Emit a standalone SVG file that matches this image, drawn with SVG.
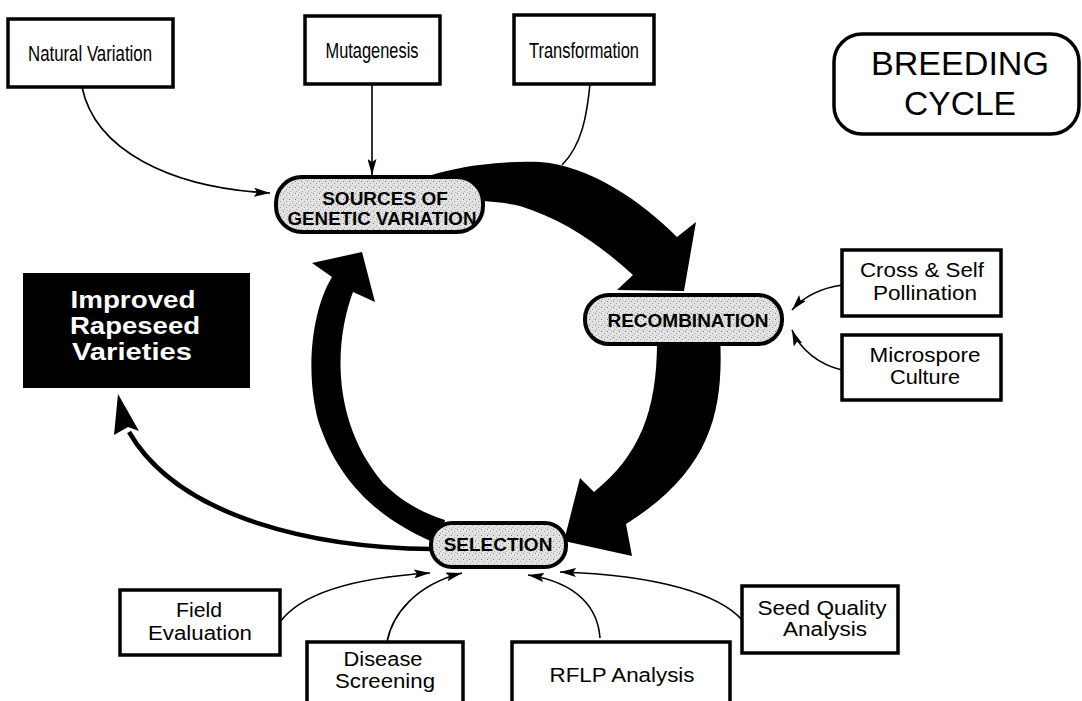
<svg xmlns="http://www.w3.org/2000/svg" width="1082" height="701" viewBox="0 0 1082 701">
<style>
.box{fill:#fff;stroke:#000;stroke-width:3.5}
.pill{fill:url(#stip);stroke:#000;stroke-width:4}
.lbl{font-family:"Liberation Sans",Arial,sans-serif;font-size:20px;fill:#000;text-anchor:middle}
.top{font-family:"Liberation Sans",Arial,sans-serif;font-size:22px;fill:#000;text-anchor:middle}
.pl{font-family:"Liberation Sans",Arial,sans-serif;font-weight:bold;font-size:19px;fill:#000;text-anchor:middle}
.thin{fill:none;stroke:#000;stroke-width:1.6}
.big{fill:#000;stroke:none}
.imp{font-family:"Liberation Sans",Arial,sans-serif;font-weight:bold;font-size:24px;fill:#fff;text-anchor:middle}
</style>
<defs>
<pattern id="stip" width="6" height="6" patternUnits="userSpaceOnUse">
<rect width="6" height="6" fill="#e2e2e2"/>
<rect x="1" y="1" width="1" height="1" fill="#7a7a7a"/>
<rect x="4" y="3" width="1" height="1" fill="#999"/>
<rect x="2" y="5" width="1" height="1" fill="#aaa"/>
<rect x="5" y="0" width="1" height="1" fill="#bbb"/>
</pattern>
<marker id="ah" viewBox="0 0 16 9" refX="16" refY="4.5" markerWidth="16" markerHeight="9" markerUnits="userSpaceOnUse" orient="auto">
<path d="M0,0 L16,4.5 L0,9 L3,4.5 Z" fill="#000"/>
</marker>
</defs>
<rect width="1082" height="701" fill="#fff"/>

<g id="connectors">
<path class="big" d="M418 180 C440 170,490 160,540 162 C590 166,640 200,677 237 L696 222 L684 291 L617 290 L633 275 C600 245,565 220,520 206 C500 201,470 200,440 200 Z"/>
<path class="big" d="M657 335 L720 335 C724 410,712 470,626 524 L632 556 L564 541 L580 478 L594 492 C640 455,658 410,657 335 Z"/>
<path class="big" d="M362 252 L375 302 L353 292 C335 340,330 420,383 483 C400 500,420 512,445 520 L440 545 C390 525,340 490,318 420 C305 370,312 310,332 277 L312 263 Z"/>
<path fill="none" stroke="#000" stroke-width="4.5" d="M432 549 C320 548,180 520,129 432"/>
<path class="big" d="M118 394 L139 431 L128 427 L114 435 Z"/>
<path class="thin" marker-end="url(#ah)" d="M82 87 C95 150,170 188,270 193"/>
<path class="thin" marker-end="url(#ah)" d="M372 84 L372 175"/>
<path class="thin" d="M590 84 C587 115,582 145,562 165"/>
<path class="thin" marker-end="url(#ah)" d="M842 285 C822 288,805 295,792 310"/>
<path class="thin" marker-end="url(#ah)" d="M842 370 C820 365,800 350,792 330"/>
<path class="thin" marker-end="url(#ah)" d="M280 622 C300 595,350 578,430 573"/>
<path class="thin" marker-end="url(#ah)" d="M387 642 C392 615,415 585,462 573"/>
<path class="thin" marker-end="url(#ah)" d="M600 638 C598 610,580 583,528 575"/>
<path class="thin" marker-end="url(#ah)" d="M742 620 C720 595,660 575,560 572"/>
</g>

<g id="natural-variation">
<rect class="box" x="8" y="19" width="165" height="68"/>
<text class="top" x="90" y="61" textLength="124" lengthAdjust="spacingAndGlyphs">Natural Variation</text>
</g>
<g id="mutagenesis">
<rect class="box" x="305" y="16" width="135" height="68"/>
<text class="top" x="372" y="58" textLength="93" lengthAdjust="spacingAndGlyphs">Mutagenesis</text>
</g>
<g id="transformation">
<rect class="box" x="514" y="15" width="140" height="69"/>
<text class="top" x="584" y="58" textLength="110" lengthAdjust="spacingAndGlyphs">Transformation</text>
</g>
<g id="breeding-cycle">
<rect x="834" y="34" width="245" height="100" rx="28" fill="#fff" stroke="#000" stroke-width="3.5"/>
<text x="960" y="75" font-family="Liberation Sans,Arial,sans-serif" font-size="33" text-anchor="middle" textLength="178" lengthAdjust="spacingAndGlyphs">BREEDING</text>
<text x="960" y="115" font-family="Liberation Sans,Arial,sans-serif" font-size="33" text-anchor="middle" textLength="112" lengthAdjust="spacingAndGlyphs">CYCLE</text>
</g>
<g id="sources">
<rect class="pill" x="276" y="177" width="207" height="55" rx="26"/>
<text class="pl" x="385" y="205">SOURCES OF</text>
<text class="pl" x="382" y="225" textLength="189" lengthAdjust="spacingAndGlyphs">GENETIC VARIATION</text>
</g>
<g id="recombination">
<rect class="pill" x="585" y="295" width="197" height="49" rx="24"/>
<text class="pl" x="688" y="327" font-size="20">RECOMBINATION</text>
</g>
<g id="selection">
<rect class="pill" x="431" y="523" width="135" height="44" rx="21"/>
<text class="pl" x="498" y="551">SELECTION</text>
</g>
<g id="improved-varieties">
<rect x="23" y="273" width="227" height="115" fill="#000"/>
<text class="imp" x="133" y="308" textLength="125" lengthAdjust="spacingAndGlyphs">Improved</text>
<text class="imp" x="135" y="334" textLength="130" lengthAdjust="spacingAndGlyphs">Rapeseed</text>
<text class="imp" x="132" y="360" textLength="120" lengthAdjust="spacingAndGlyphs">Varieties</text>
</g>
<g id="cross-self">
<rect class="box" x="842" y="250" width="159" height="66"/>
<text class="lbl" x="922" y="277" textLength="124" lengthAdjust="spacingAndGlyphs">Cross &amp; Self</text>
<text class="lbl" x="925" y="300" textLength="104" lengthAdjust="spacingAndGlyphs">Pollination</text>
</g>
<g id="microspore">
<rect class="box" x="842" y="335" width="159" height="65"/>
<text class="lbl" x="925" y="362" textLength="111" lengthAdjust="spacingAndGlyphs">Microspore</text>
<text class="lbl" x="925" y="384" textLength="70" lengthAdjust="spacingAndGlyphs">Culture</text>
</g>
<g id="field-evaluation">
<rect class="box" x="120" y="590" width="160" height="65"/>
<text class="lbl" x="199" y="617" textLength="46" lengthAdjust="spacingAndGlyphs">Field</text>
<text class="lbl" x="200" y="640" textLength="104" lengthAdjust="spacingAndGlyphs">Evaluation</text>
</g>
<g id="disease-screening">
<rect class="box" x="307" y="642" width="156" height="70"/>
<text class="lbl" x="383" y="666" font-size="18" textLength="79" lengthAdjust="spacingAndGlyphs">Disease</text>
<text class="lbl" x="385" y="688" font-size="18" textLength="100" lengthAdjust="spacingAndGlyphs">Screening</text>
</g>
<g id="rflp">
<rect class="box" x="512" y="642" width="218" height="70"/>
<text class="lbl" x="622" y="682" textLength="145" lengthAdjust="spacingAndGlyphs">RFLP Analysis</text>
</g>
<g id="seed-quality">
<rect class="box" x="742" y="586" width="156" height="67"/>
<text class="lbl" x="822" y="615" textLength="129" lengthAdjust="spacingAndGlyphs">Seed Quality</text>
<text class="lbl" x="825" y="636" textLength="84" lengthAdjust="spacingAndGlyphs">Analysis</text>
</g>
</svg>
